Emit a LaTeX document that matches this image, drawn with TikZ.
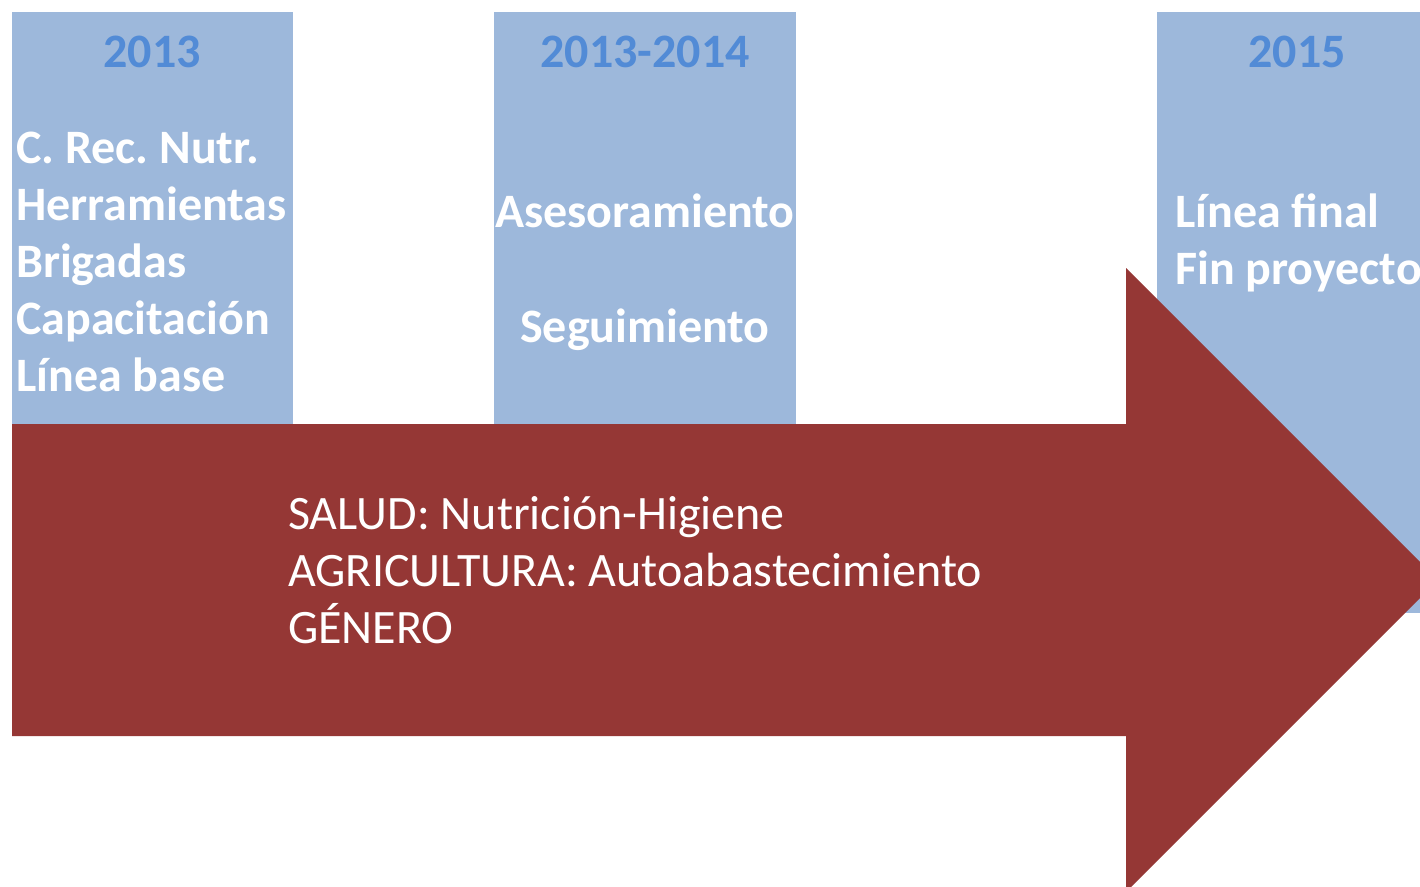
\documentclass[tikz,border=0pt]{standalone}
\usepackage{fontspec}
\setmainfont{Carlito}
\usepackage{tikz}
\definecolor{boxblue}{HTML}{9DB8DB}
\definecolor{yearblue}{HTML}{528BD6}
\definecolor{arrowred}{HTML}{953735}
\frenchspacing

\begin{document}
\begin{tikzpicture}[x=1pt,y=-1pt]
	\tikzstyle{box}=[fill=boxblue,draw=none]
	\tikzstyle{year}=[text=yearblue,font=\fontsize{48}{57}\selectfont\bfseries,inner sep=0pt,anchor=base]
	\tikzstyle{item}=[text=white,font=\fontsize{48}{57}\selectfont\bfseries,inner sep=0pt]
	\tikzstyle{topic}=[text=white,font=\fontsize{48}{57}\selectfont,inner sep=0pt,anchor=base west]
	\useasboundingbox (0,0) rectangle (1420,886);
	\clip (0,0) rectangle (1420,886);
	\fill[box] (12,12) rectangle (293,424);
	\fill[box] (494,12) rectangle (796,424);
	\fill[box] (1157,12) rectangle (1460,613);
	\node[year] (y1) at (152,67) {2013};
	\node[year] (y2) at (645,67) {2013-2014};
	\node[year] (y3) at (1297,67) {2015};
	\node[item,anchor=base west] (a1) at (16,163) {C. Rec. Nutr.};
	\node[item,anchor=base west] (a2) at (16,220) {Herramientas};
	\node[item,anchor=base west] (a3) at (16,277) {Brigadas};
	\node[item,anchor=base west] (a4) at (16,334) {Capacitación};
	\node[item,anchor=base west] (a5) at (16,391) {Línea base};
	\node[item,anchor=base] (b1) at (645,227) {Asesoramiento};
	\node[item,anchor=base] (b2) at (645,342) {Seguimiento};
	\node[item,anchor=base west] (c1) at (1175,227) {Línea final};
	\node[item,anchor=base west] (c2) at (1175,284) {Fin proyecto};
	\fill[arrowred] (12,424) -- (1126,424) -- (1126,268) -- (1438,580)
		-- (1126,892) -- (1126,736) -- (12,736) -- cycle;
	\node[topic] (t1) at (288,529) {SALUD: Nutrición-Higiene};
	\node[topic] (t2) at (288,586) {AGRICULTURA: Autoabastecimiento};
	\node[topic] (t3) at (288,643) {GÉNERO};
\end{tikzpicture}
\end{document}
